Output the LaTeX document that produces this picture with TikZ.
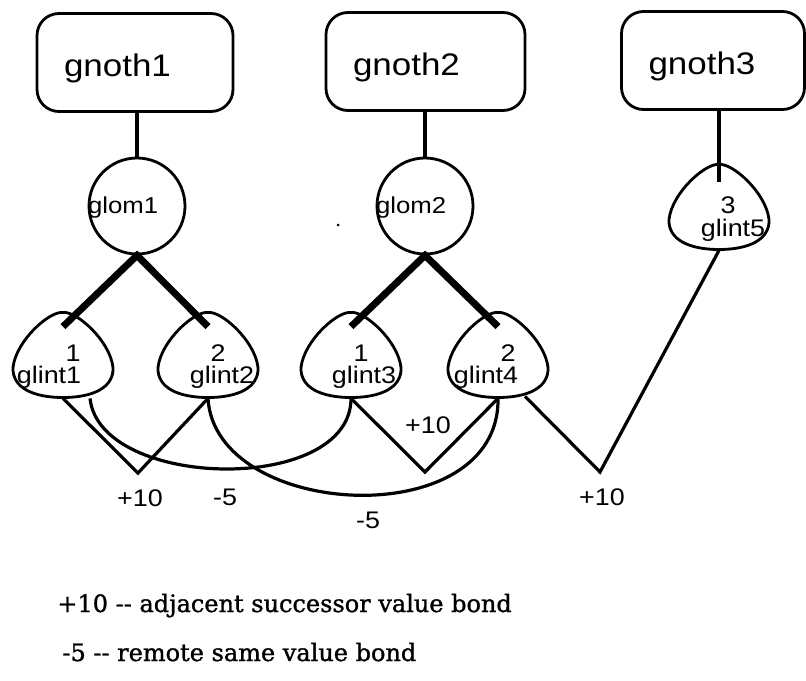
\documentclass[tikz,border=0pt]{standalone}
\usepackage{fontspec}
\setmainfont[FakeStretch=1.12]{Liberation Sans}
\newfontfamily\legendfont[FakeBold=1.2]{DejaVu Serif}

\tikzset{
    gnothbox/.style={draw, line width=1.4pt, rounded corners=11pt, minimum height=49pt, inner sep=0pt},
    glomcirc/.style={draw, line width=1.4pt, circle, minimum size=48pt, inner sep=0pt},
    glint/.style={minimum width=50pt, minimum height=42.5pt, inner sep=0pt},
    bigtxt/.style={font=\fontsize{15.6}{18}\selectfont, inner sep=0pt},
    smalltxt/.style={font=\fontsize{12}{14}\selectfont, inner sep=0pt},
    glomtxt/.style={font=\fontsize{11.5}{13}\selectfont, inner sep=0pt},
    legendtxt/.style={font=\legendfont\fontsize{12}{14}\selectfont, inner sep=0pt, anchor=base west},
    link/.style={line width=1.7pt},
    heavylink/.style={line width=3.5pt, line join=miter},
    bond/.style={line width=1.6pt, line join=miter}
}

\begin{document}
\begin{tikzpicture}[x=0.5pt, y=-0.5pt]
    \useasboundingbox (0,0) rectangle (806,680);

    % gnoths
    \node[gnothbox, minimum width=98pt] (gnoth1) at (135,62.5) {};
    \node[gnothbox, minimum width=99.5pt] (gnoth2) at (425.5,61.5) {};
    \node[gnothbox, minimum width=91.5pt] (gnoth3) at (713,60.5) {};
    \foreach \g in {1,2,3} {
        \node[bigtxt, anchor=west] (gnothtxt\g) at ([shift={(28,6)}]gnoth\g.west) {gnoth\g};
    }

    % gloms
    \node[glomcirc] (glom1) at (137,206) {};
    \node[glomcirc] (glom2) at (425,206) {};
    \foreach \g in {1,2} {
        \node[glomtxt, anchor=west] (glomtxt\g) at ([shift={(0,2)}]glom\g.west) {glom\g};
    }
    \fill (338,225) circle (1.5);

    % glints
    \node[glint] (glint1) at (63,355.5) {};
    \node[glint] (glint2) at (208,355.5) {};
    \node[glint] (glint3) at (351,355.5) {};
    \node[glint] (glint4) at (498,355.5) {};
    \node[glint] (glint5) at (719,207.5) {};
    \foreach \g in {glint1,glint2,glint3,glint4,glint5} {
        \draw[line width=1.4pt, shift={(\g)}] (0,-43) .. controls (13,-45) and (47,-15) .. (50,12)
            .. controls (51,32) and (30,42) .. (0,42) .. controls (-30,42) and (-51,32) .. (-50,12)
            .. controls (-47,-15) and (-13,-45) .. (0,-43) -- cycle;
    }
    \node[smalltxt] (num1) at (73,353) {1};
    \node[smalltxt] (lab1) at (49,377) {glint1};
    \node[smalltxt] (num2) at (218,353) {2};
    \node[smalltxt] (lab2) at (222,377) {glint2};
    \node[smalltxt] (num3) at (361,353) {1};
    \node[smalltxt] (lab3) at (364,377) {glint3};
    \node[smalltxt] (num4) at (508,353) {2};
    \node[smalltxt] (lab4) at (486,377) {glint4};
    \node[smalltxt] (num5) at (728,205) {3};
    \node[smalltxt] (lab5) at (733,230) {glint5};

    % tree links
    \draw[link] (glom1 |- gnoth1.south) -- (glom1.north);
    \draw[link] (glom2 |- gnoth2.south) -- (glom2.north);
    \draw[link] (glint5 |- gnoth3.south) -- ([shift={(0,17)}]glint5.north);
    \draw[heavylink] ([shift={(0,14)}]glint1.north) -- (glom1.south) -- ([shift={(0,14)}]glint2.north);
    \draw[heavylink] ([shift={(0,14)}]glint3.north) -- (glom2.south) -- ([shift={(0,14)}]glint4.north);

    % bonds
    \coordinate (v1) at (138,473);
    \coordinate (v2) at (425,472);
    \coordinate (v3) at (600,472);
    \draw[bond] (glint1.south) -- (v1) -- (glint2.south);
    \draw[bond] (glint3.south) -- (v2) -- (glint4.south);
    \draw[bond] ([shift={(27,-2)}]glint4.south) -- (v3) -- (glint5.south);
    \draw[bond] ([shift={(27,0)}]glint1.south) .. controls (100,490) and (351,495) .. (glint3.south);
    \draw[bond] (glint2.south) .. controls (215,520) and (500,535) .. (glint4.south);

    \node[smalltxt] (w1) at (140,498) {+10};
    \node[smalltxt] (w2) at (225,497) {-5};
    \node[smalltxt] (w3) at (428,425) {+10};
    \node[smalltxt] (w4) at (368,520) {-5};
    \node[smalltxt] (w5) at (602,497) {+10};

    % legend
    \node[legendtxt] (key1) at (57,612) {+10 -{}- adjacent successor value bond};
    \node[legendtxt] (key2) at (62,661) {-5 -{}- remote same value bond};
\end{tikzpicture}
\end{document}
